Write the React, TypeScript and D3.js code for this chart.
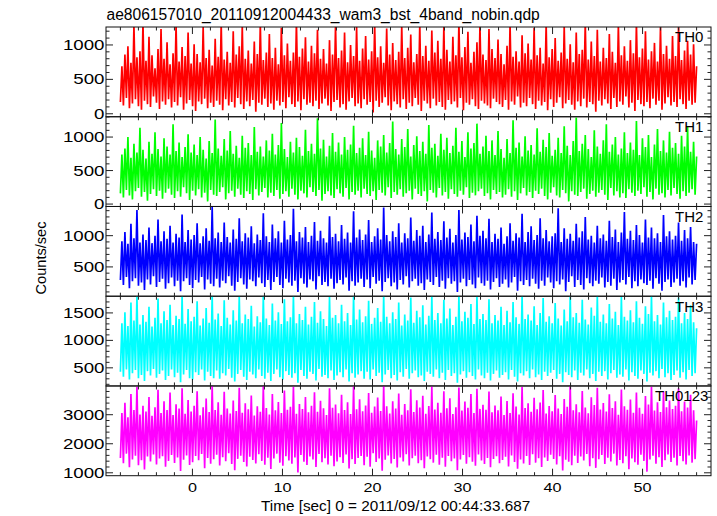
import React from 'react';
import * as d3 from 'd3';

const TITLE = 'ae806157010_20110912004433_wam3_bst_4band_nobin.qdp';
const X_LABEL = 'Time [sec] 0 = 2011/09/12 00:44:33.687';
const Y_LABEL = 'Counts/sec';
const PANEL_NAMES = ['TH0', 'TH1', 'TH2', 'TH3', 'TH0123'];
const COLORS = ['#ff0000', '#00ff00', '#0000ff', '#00ffff', '#ff00ff'];
const T_START = -8;
const T_END = 56;
const X_DOMAIN = [-9.6, 57.6];
const X_MAJOR = [0, 10, 20, 30, 40, 50];
const X_MINOR_STEP = 2;

const Y_DOMAINS = [
  [-43, 1261],
  [-36, 1303],
  [31, 1467],
  [170, 1804],
  [900, 3990],
];
const Y_MAJOR = [
  [0, 500, 1000],
  [0, 500, 1000],
  [500, 1000],
  [500, 1000, 1500],
  [1000, 2000, 3000],
];
const Y_MINOR_STEP = [100, 100, 100, 100, 200];

const th0 = [
  170, 690, 120, 860, 230, 980, 80, 740, 150, 1290, 210, 820, 110, 910, 60, 1330,
  190, 770, 140, 1120, 100, 850, 250, 660, 160, 940, 70, 1230, 180, 800, 130, 1040,
  210, 720, 90, 880, 170, 1300, 120, 760, 240, 970, 60, 840, 150, 1180, 200, 730,
  110, 1010, 40, 870, 180, 750, 140, 1260, 220, 810, 80, 930, 160, 700, 100, 1090,
  190, 830, 130, 1320, 50, 790, 210, 900, 120, 740, 170, 1200, 90, 860, 230, 980,
  140, 1280, 70, 800, 180, 920, 110, 730, 200, 1050, 30, 870, 160, 1310, 130, 780,
  220, 890, 100, 1160, 150, 810, 60, 960, 190, 720, 120, 1250, 170, 850, 80, 1020,
  240, 770, 140, 890, 100, 1340, 180, 830, 50, 950, 210, 1110, 130, 760, 160, 990,
  110, 880, 190, 1220, 70, 800, 150, 940, 220, 730, 120, 1070, 40, 860, 170, 1290,
  200, 810, 90, 920, 140, 1180, 60, 750, 180, 1000, 230, 840, 110, 1260, 150, 770,
  80, 950, 210, 1130, 130, 790, 170, 910, 20, 1310, 190, 820, 100, 980, 160, 740,
  240, 1240, 120, 860, 50, 1030, 180, 780, 140, 900, 90, 1280, 210, 810, 70, 960,
  160, 1150, 110, 750, 230, 870, 130, 1300, 40, 840, 190, 990, 150, 770, 80, 1210,
  220, 890, 120, 1060, 170, 800, 100, 1270, 60, 930, 200, 760, 140, 1120, 180, 850,
  90, 1330, 230, 820, 50, 970, 160, 1190, 130, 740, 210, 900, 110, 1040, 70, 1290,
  190, 860, 150, 780, 120, 1230, 80, 940, 220, 810, 170, 1080, 140, 870, 100, 720,
  200, 990, 60, 1300, 180, 830, 130, 910, 250, 760, 90, 1140, 160, 880, 110, 1020,
  230, 790, 140, 1250, 70, 850, 190, 960, 120, 730, 170, 1310, 50, 820, 210, 940,
  100, 1100, 160, 770, 240, 890, 80, 1270, 150, 800, 200, 1010, 130, 750, 60, 1180,
  180, 870, 110, 930, 220, 1330, 90, 790, 170, 1050, 140, 840, 30, 1220, 190, 760,
  120, 960, 210, 810, 150, 1160, 70, 900, 230, 740, 100, 1290, 180, 850, 130, 980,
  250, 770, 90, 1070, 160, 880, 40, 1320, 200, 820, 140, 950, 110, 1200, 170, 790,
  80, 910, 220, 1030, 130, 760, 190, 1260, 60, 870, 150, 990, 240, 800, 120, 1130,
  170, 840, 100, 1280, 210, 780, 140, 920, 70, 1060, 190, 860, 130, 1010, 160, 690,
];

const th1 = [
  160, 740, 100, 830, 210, 1000, 130, 690, 70, 900, 190, 770, 240, 1140, 110, 810,
  180, 680, 50, 930, 150, 750, 220, 1070, 120, 820, 200, 710, 80, 980, 170, 860,
  230, 740, 140, 1190, 90, 790, 190, 920, 110, 700, 250, 850, 160, 1040, 60, 770,
  200, 890, 130, 730, 220, 1000, 100, 810, 170, 680, 40, 940, 210, 760, 140, 1260,
  120, 830, 180, 720, 250, 970, 70, 800, 160, 1090, 200, 750, 110, 870, 230, 690,
  140, 1020, 90, 840, 190, 910, 150, 730, 60, 1150, 220, 780, 130, 860, 180, 710,
  240, 950, 100, 800, 170, 1050, 120, 740, 210, 880, 80, 1210, 150, 820, 190, 700,
  110, 930, 230, 770, 140, 990, 70, 850, 200, 720, 160, 1110, 100, 790, 250, 900,
  180, 750, 120, 1280, 210, 830, 50, 960, 150, 710, 190, 870, 130, 1060, 90, 780,
  220, 920, 160, 740, 110, 1000, 240, 810, 70, 890, 180, 1170, 140, 760, 200, 840,
  100, 980, 230, 730, 150, 1080, 120, 800, 190, 690, 60, 950, 210, 860, 170, 1030,
  130, 770, 250, 910, 90, 1230, 180, 820, 140, 740, 220, 970, 110, 850, 160, 1120,
  200, 710, 70, 880, 230, 1010, 150, 790, 120, 930, 190, 750, 40, 1180, 210, 840,
  170, 900, 100, 720, 240, 1050, 130, 810, 180, 990, 80, 760, 220, 870, 150, 1140,
  110, 780, 200, 940, 140, 700, 250, 1070, 90, 830, 170, 910, 130, 1200, 190, 750,
  230, 860, 120, 1020, 160, 790, 70, 950, 210, 730, 150, 1090, 180, 820, 100, 690,
  140, 970, 220, 760, 110, 1250, 190, 840, 60, 920, 160, 710, 240, 1010, 130, 800,
  180, 880, 90, 740, 200, 1130, 150, 780, 230, 960, 120, 850, 70, 1060, 170, 720,
  250, 810, 130, 990, 100, 760, 210, 1160, 160, 870, 40, 730, 190, 940, 140, 1290,
  120, 790, 180, 900, 230, 1030, 80, 820, 150, 700, 200, 1100, 110, 860, 170, 750,
  210, 950, 140, 1190, 60, 780, 240, 890, 130, 1000, 190, 740, 100, 830, 160, 1070,
  90, 760, 220, 920, 170, 810, 120, 1240, 200, 730, 150, 980, 250, 850, 110, 1030,
  180, 700, 70, 890, 230, 1120, 140, 790, 160, 950, 100, 770, 210, 1080, 130, 840,
  240, 910, 150, 750, 80, 1020, 190, 860, 120, 1150, 170, 780, 220, 930, 140, 710,
];

const th2 = [
  290, 910, 210, 1060, 340, 870, 160, 1190, 270, 960, 320, 1410, 200, 890, 250, 1020,
  130, 930, 300, 1130, 220, 880, 350, 1000, 180, 1260, 260, 910, 310, 1070, 150, 950,
  240, 1160, 330, 890, 190, 1030, 280, 970, 110, 1340, 270, 900, 320, 1090, 210, 940,
  160, 1010, 290, 1200, 250, 880, 340, 990, 140, 1120, 300, 920, 230, 1460, 190, 960,
  310, 1050, 170, 900, 280, 1210, 240, 980, 350, 890, 200, 1100, 120, 950, 260, 1280,
  320, 910, 220, 1040, 150, 970, 300, 1150, 270, 880, 190, 1020, 330, 930, 240, 1360,
  180, 990, 290, 900, 130, 1180, 260, 960, 340, 1070, 210, 890, 160, 1240, 310, 940,
  250, 1010, 200, 1430, 280, 910, 100, 1060, 320, 970, 230, 1140, 170, 900, 300, 1000,
  270, 1220, 140, 920, 350, 1080, 210, 960, 260, 890, 190, 1310, 310, 980, 150, 1030,
  240, 910, 290, 1170, 220, 950, 330, 1050, 120, 890, 270, 1390, 200, 970, 250, 1100,
  310, 930, 180, 1020, 300, 1250, 160, 900, 340, 990, 230, 1120, 280, 940, 110, 1450,
  260, 1010, 320, 910, 190, 1070, 250, 980, 140, 1200, 290, 890, 220, 1040, 350, 960,
  170, 1290, 270, 920, 310, 1090, 200, 1000, 240, 1160, 130, 900, 300, 1020, 260, 1370,
  210, 950, 340, 1060, 180, 930, 280, 1230, 150, 970, 320, 1110, 230, 890, 270, 1010,
  100, 1410, 250, 940, 310, 1050, 190, 980, 290, 1180, 220, 910, 160, 1320, 330, 1000,
  240, 1080, 200, 960, 280, 1270, 140, 900, 260, 1030, 320, 950, 180, 1130, 230, 870,
  300, 990, 170, 1200, 250, 920, 340, 1040, 120, 970, 270, 1350, 210, 900, 290, 1060,
  190, 1150, 310, 930, 230, 1010, 150, 1280, 280, 960, 200, 1090, 330, 910, 250, 990,
  160, 1040, 270, 1440, 220, 900, 300, 1120, 110, 950, 260, 1030, 350, 920, 180, 1190,
  290, 970, 210, 1070, 140, 1300, 320, 940, 240, 1000, 190, 890, 280, 1160, 230, 960,
  330, 1020, 170, 920, 260, 1240, 200, 980, 310, 1100, 130, 900, 250, 1050, 290, 1380,
  220, 950, 340, 1080, 160, 930, 270, 1170, 190, 1010, 300, 890, 240, 1260, 210, 970,
  280, 1130, 150, 960, 320, 1040, 230, 900, 120, 1330, 260, 990, 300, 1070, 180, 940,
  250, 1000, 310, 1210, 200, 920, 270, 1090, 170, 960, 330, 1140, 220, 900, 290, 870,
];

const th3 = [
  430, 1310, 340, 1510, 470, 1260, 290, 1690, 400, 1360, 460, 1810, 310, 1290, 370, 1460,
  260, 1340, 440, 1610, 360, 1250, 480, 1410, 320, 1760, 390, 1310, 450, 1530, 280, 1370,
  350, 1650, 470, 1280, 330, 1450, 410, 1390, 240, 1810, 380, 1300, 460, 1570, 310, 1350,
  290, 1430, 420, 1710, 370, 1270, 470, 1400, 270, 1590, 430, 1320, 350, 1820, 310, 1380,
  450, 1490, 300, 1260, 400, 1730, 360, 1410, 480, 1290, 320, 1550, 250, 1360, 390, 1800,
  460, 1310, 340, 1470, 280, 1390, 430, 1630, 380, 1250, 310, 1440, 470, 1330, 350, 1810,
  300, 1400, 410, 1280, 260, 1670, 390, 1360, 470, 1510, 330, 1300, 290, 1750, 440, 1350,
  370, 1420, 320, 1810, 400, 1310, 230, 1480, 460, 1370, 350, 1610, 300, 1290, 430, 1430,
  390, 1700, 270, 1320, 480, 1530, 340, 1390, 370, 1260, 310, 1790, 450, 1410, 280, 1460,
  360, 1310, 420, 1650, 330, 1350, 470, 1500, 250, 1280, 400, 1810, 320, 1380, 380, 1560,
  440, 1330, 300, 1440, 430, 1720, 290, 1300, 470, 1410, 350, 1590, 410, 1340, 240, 1810,
  380, 1430, 460, 1310, 310, 1510, 370, 1390, 270, 1690, 420, 1270, 340, 1470, 480, 1360,
  300, 1780, 400, 1320, 450, 1540, 330, 1420, 360, 1640, 260, 1290, 430, 1450, 390, 1810,
  340, 1370, 470, 1500, 310, 1310, 410, 1740, 280, 1400, 460, 1580, 350, 1280, 400, 1430,
  230, 1810, 380, 1350, 440, 1520, 320, 1410, 420, 1660, 350, 1300, 290, 1800, 470, 1390,
  360, 1480, 310, 1370, 410, 1750, 270, 1310, 390, 1460, 450, 1360, 320, 1610, 370, 1280,
  420, 1540, 290, 1330, 460, 1700, 340, 1420, 250, 1300, 400, 1810, 360, 1390, 440, 1470,
  310, 1360, 470, 1620, 330, 1280, 380, 1500, 280, 1770, 430, 1340, 350, 1440, 410, 1310,
  460, 1680, 300, 1400, 390, 1270, 240, 1560, 420, 1350, 370, 1810, 330, 1420, 450, 1500,
  280, 1320, 410, 1740, 360, 1380, 470, 1290, 310, 1600, 390, 1450, 260, 1810, 430, 1340,
  350, 1470, 440, 1310, 290, 1660, 400, 1400, 460, 1520, 320, 1280, 380, 1790, 340, 1430,
  470, 1360, 270, 1550, 420, 1330, 350, 1710, 300, 1410, 450, 1300, 390, 1620, 250, 1480,
  410, 1810, 360, 1350, 440, 1460, 310, 1290, 480, 1690, 330, 1420, 400, 1540, 280, 1370,
  370, 1430, 450, 1780, 320, 1310, 420, 1500, 290, 1390, 460, 1640, 350, 1330, 400, 1220,
];

const th0123 = [
  1510, 3060, 1330, 3410, 1660, 2910, 1190, 3710, 1460, 3160, 1590, 3960, 1260, 3010, 1430, 3310,
  1110, 3110, 1560, 3610, 1390, 2960, 1630, 3260, 1290, 3860, 1490, 3060, 1570, 3460, 1210, 3160,
  1410, 3760, 1610, 2990, 1340, 3360, 1530, 3210, 1060, 3910, 1450, 3030, 1600, 3510, 1270, 3110,
  1360, 3310, 1580, 3810, 1430, 2980, 1650, 3260, 1160, 3560, 1510, 3090, 1310, 4000, 1470, 3160,
  1620, 3430, 1250, 3000, 1540, 3790, 1400, 3210, 1670, 3040, 1300, 3490, 1090, 3130, 1480, 3930,
  1590, 3070, 1370, 3390, 1220, 3190, 1550, 3660, 1440, 2970, 1320, 3290, 1640, 3100, 1410, 3990,
  1280, 3230, 1520, 3010, 1130, 3710, 1490, 3150, 1660, 3440, 1350, 3060, 1240, 3830, 1570, 3170,
  1420, 3270, 1310, 3960, 1530, 3030, 1010, 3370, 1610, 3200, 1380, 3610, 1270, 3080, 1560, 3310,
  1460, 3770, 1200, 3100, 1650, 3480, 1360, 3220, 1500, 2990, 1290, 3910, 1590, 3240, 1230, 3350,
  1390, 3050, 1540, 3690, 1340, 3160, 1630, 3430, 1150, 3020, 1470, 3980, 1300, 3190, 1510, 3530,
  1580, 3120, 1260, 3320, 1550, 3750, 1210, 3070, 1670, 3280, 1370, 3590, 1490, 3130, 1070, 4000,
  1450, 3290, 1600, 3040, 1320, 3460, 1480, 3210, 1180, 3730, 1530, 3000, 1390, 3370, 1640, 3150,
  1250, 3880, 1500, 3090, 1590, 3500, 1330, 3250, 1430, 3650, 1160, 3030, 1560, 3300, 1470, 3970,
  1350, 3180, 1620, 3410, 1280, 3070, 1520, 3810, 1210, 3220, 1580, 3570, 1400, 3020, 1490, 3260,
  1090, 3940, 1460, 3140, 1610, 3450, 1310, 3240, 1540, 3710, 1380, 3060, 1240, 3890, 1630, 3200,
  1420, 3340, 1300, 3170, 1510, 3800, 1190, 3080, 1480, 3320, 1570, 3150, 1330, 3630, 1440, 2990,
  1550, 3470, 1220, 3060, 1600, 3740, 1370, 3280, 1140, 3010, 1460, 3950, 1320, 3230, 1580, 3390,
  1270, 3100, 1640, 3580, 1350, 3190, 1500, 3420, 1200, 3850, 1530, 3040, 1410, 3300, 1620, 3120,
  1480, 3680, 1290, 3210, 1570, 3020, 1080, 3540, 1450, 3270, 1380, 3990, 1260, 3150, 1590, 3360,
  1340, 3080, 1560, 3820, 1420, 3250, 1650, 3050, 1230, 3600, 1500, 3330, 1170, 3930, 1470, 3180,
  1610, 3400, 1300, 3110, 1520, 3700, 1390, 3230, 1660, 3460, 1250, 3000, 1440, 3870, 1330, 3290,
  1570, 3170, 1120, 3520, 1490, 3070, 1360, 3760, 1280, 3240, 1620, 3030, 1410, 3640, 1040, 3350,
  1460, 3960, 1590, 3140, 1310, 3430, 1540, 3090, 1200, 3800, 1430, 3260, 1630, 3490, 1370, 3200,
  1520, 3310, 1250, 3910, 1580, 3120, 1400, 3450, 1290, 3250, 1600, 3690, 1350, 3150, 1470, 2800,
];

const SERIES = [th0, th1, th2, th3, th0123];

// layout
const W = 717;
const H = 516;
const PLOT_L = 106;
const PLOT_R = 711;
const PLOT_T = 27;
const PLOT_B = 475.7;
const LABEL_X = [675, 675, 675, 675, 655];
const FONT = '"Liberation Sans", Arial, Helvetica, sans-serif';

export default function App() {
  const panelH = (PLOT_B - PLOT_T) / SERIES.length;
  const x = d3.scaleLinear().domain(X_DOMAIN).range([PLOT_L, PLOT_R]);
  const xMinor = d3.range(T_START, X_DOMAIN[1], X_MINOR_STEP).filter((v) => !X_MAJOR.includes(v));

  return (
    <svg width={W} height={H} style={{ position: 'absolute', left: 0, top: 0, background: '#fff' }} fontFamily={FONT}>
      <rect x={0} y={0} width={W} height={H} fill="#fff" />
      <defs>
        {SERIES.map((_, i) => (
          <clipPath id={`clip${i}`} key={i}>
            <rect x={PLOT_L} y={PLOT_T + i * panelH} width={PLOT_R - PLOT_L} height={panelH} />
          </clipPath>
        ))}
      </defs>
      <text x={106.5} y={20} fontSize={15.6} fill="#000">{TITLE}</text>
      {SERIES.map((data, i) => {
        const top = PLOT_T + i * panelH;
        const bot = top + panelH;
        const y = d3.scaleLinear().domain(Y_DOMAINS[i]).range([bot, top]);
        const step = (T_END - T_START) / (data.length - 1);
        const line = d3
          .line<number>()
          .x((_, j) => x(T_START + j * step))
          .y((d) => y(d));
        const [lo, hi] = Y_DOMAINS[i];
        const ms = Y_MINOR_STEP[i];
        const yMinor = d3
          .range(Math.ceil(lo / ms) * ms, hi, ms)
          .filter((v) => !Y_MAJOR[i].includes(v));
        return (
          <g key={i}>
            <path
              d={line(data) || ''}
              fill="none"
              stroke={COLORS[i]}
              strokeWidth={1.7}
              strokeLinejoin="bevel"
              clipPath={`url(#clip${i})`}
            />
            <rect x={PLOT_L} y={top} width={PLOT_R - PLOT_L} height={panelH} fill="none" stroke="#111" strokeWidth={1} />
            {Y_MAJOR[i].map((v) => (
              <g key={`M${v}`}>
                <line x1={PLOT_L} x2={PLOT_L + 7} y1={y(v)} y2={y(v)} stroke="#222" />
                <line x1={PLOT_R} x2={PLOT_R - 7} y1={y(v)} y2={y(v)} stroke="#222" />
                <text
                  x={104.5}
                  y={y(v)}
                  dy="0.36em"
                  textAnchor="end"
                  fontSize={14}
                  textLength={String(v).length * 10.4}
                  lengthAdjust="spacingAndGlyphs"
                  fill="#000"
                >
                  {v}
                </text>
              </g>
            ))}
            {yMinor.map((v) => (
              <g key={`m${v}`}>
                <line x1={PLOT_L} x2={PLOT_L + 3.5} y1={y(v)} y2={y(v)} stroke="#222" />
                <line x1={PLOT_R} x2={PLOT_R - 3.5} y1={y(v)} y2={y(v)} stroke="#222" />
              </g>
            ))}
            {X_MAJOR.map((v) => (
              <g key={`xM${v}`}>
                <line x1={x(v)} x2={x(v)} y1={top} y2={top + 7} stroke="#222" />
                <line x1={x(v)} x2={x(v)} y1={bot} y2={bot - 7} stroke="#222" />
              </g>
            ))}
            {xMinor.map((v) => (
              <g key={`xm${v}`}>
                <line x1={x(v)} x2={x(v)} y1={top} y2={top + 3.5} stroke="#222" />
                <line x1={x(v)} x2={x(v)} y1={bot} y2={bot - 3.5} stroke="#222" />
              </g>
            ))}
            <text x={LABEL_X[i]} y={top + 15.3} fontSize={15} fill="#000">{PANEL_NAMES[i]}</text>
          </g>
        );
      })}
      {X_MAJOR.map((v) => (
        <text
          key={`xl${v}`}
          x={x(v)}
          y={491.5}
          textAnchor="middle"
          fontSize={13}
          textLength={String(v).length * 9}
          lengthAdjust="spacingAndGlyphs"
          fill="#000"
        >
          {v}
        </text>
      ))}
      <text x={261} y={511} fontSize={15.3} fill="#000">{X_LABEL}</text>
      <text transform="translate(45.5,258) rotate(-90)" textAnchor="middle" fontSize={14.6} fill="#000">
        {Y_LABEL}
      </text>
    </svg>
  );
}
